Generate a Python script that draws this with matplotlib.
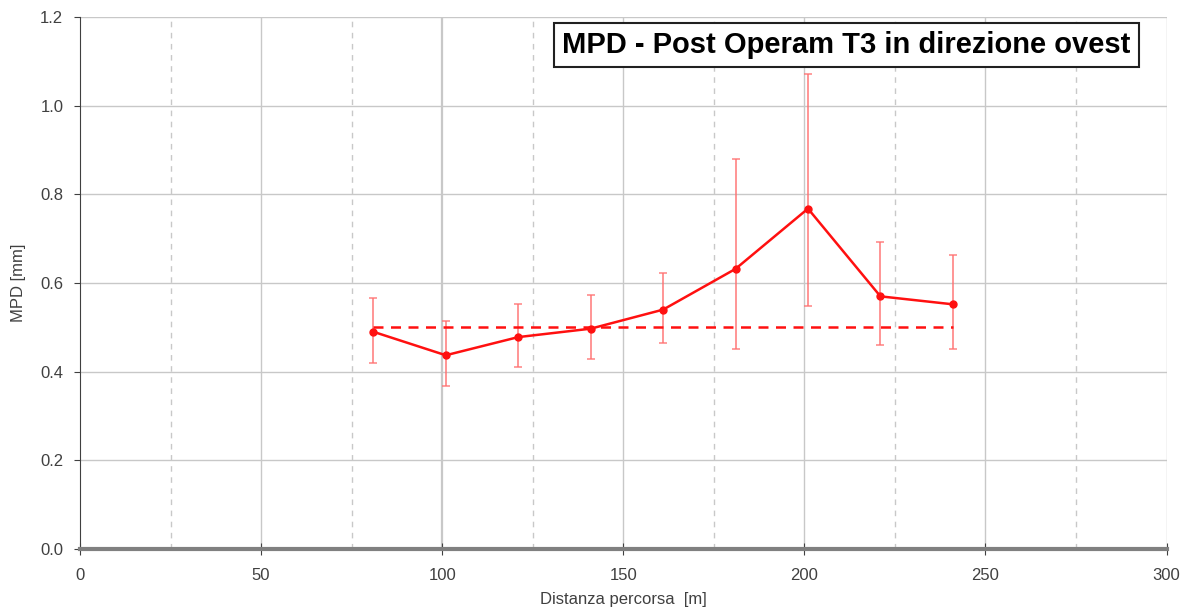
import numpy as np
import matplotlib
matplotlib.use("Agg")
import matplotlib.pyplot as plt

plt.rcParams["font.family"] = ["Liberation Sans", "DejaVu Sans"]

# distanza percorsa [m] and MPD [mm]
distanza = [81, 101, 121, 141, 161, 181, 201, 221, 241]
mpd = [0.490, 0.437, 0.478, 0.497, 0.540, 0.632, 0.768, 0.570, 0.552]
mpd_low = [0.419, 0.367, 0.411, 0.428, 0.464, 0.451, 0.549, 0.460, 0.451]
mpd_high = [0.566, 0.514, 0.552, 0.573, 0.622, 0.880, 1.071, 0.693, 0.663]
soglia = 0.50

x_ticks = [0, 50, 100, 150, 200, 250, 300]
x_minor = [25, 75, 125, 175, 225, 275]
y_ticks = [0.0, 0.2, 0.4, 0.6, 0.8, 1.0, 1.2]

mpd = np.array(mpd)
err = [mpd - np.array(mpd_low), np.array(mpd_high) - mpd]

fig = plt.figure(figsize=(11.94, 6.16), dpi=100)
ax = fig.add_axes([0.067, 0.109, 0.910, 0.863])

ax.set_xlim(0, 300)
ax.set_ylim(0, 1.2)

# grid
for v in x_ticks[1:]:
    ax.axvline(v, color="#c8c8c8", lw=1.6 if v == 100 else 1.0, zorder=0)
for v in x_minor:
    ax.axvline(v, color="#c8c8c8", lw=1.0, ls=(0, (4, 4)), zorder=0)
for v in y_ticks[1:]:
    ax.axhline(v, color="#c8c8c8", lw=1.0, zorder=0)

ax.errorbar(distanza, mpd, yerr=err, fmt="none", ecolor="#ff7070",
            elinewidth=1.3, capsize=3, capthick=1.2, alpha=0.8, zorder=2)
ax.plot(distanza, mpd, color="#ff1010", lw=1.8, marker="o", ms=5, zorder=3)
ax.plot([distanza[0], distanza[-1]], [soglia, soglia], color="#ff1010",
        lw=1.8, ls=(0, (4, 3)), zorder=3)

for s in ["top", "right"]:
    ax.spines[s].set_visible(False)
ax.spines["left"].set_color("#404040")
ax.spines["bottom"].set_color("#808080")
ax.spines["bottom"].set_linewidth(3)

ax.set_xticks(x_ticks)
ax.set_yticks(y_ticks)
ax.set_yticklabels([f"{v:.1f}" for v in y_ticks])
ax.tick_params(axis="both", labelsize=12, colors="#404040", length=4)
ax.tick_params(axis="y", pad=8)
ax.tick_params(axis="x", direction="inout", length=8, pad=10)
ax.set_xlabel("Distanza percorsa  [m]", fontsize=12, color="#404040", labelpad=6)
ax.set_ylabel("MPD [mm]", fontsize=12, color="#404040", labelpad=10)

ax.text(0.967, 0.948, "MPD - Post Operam T3 in direzione ovest", transform=ax.transAxes,
        ha="right", va="center", fontsize=21, fontweight="bold", color="black",
        bbox=dict(boxstyle="square,pad=0.28", fc="white", ec="#202020", lw=1.5), zorder=5)

fig.savefig("out.png", dpi=100)
